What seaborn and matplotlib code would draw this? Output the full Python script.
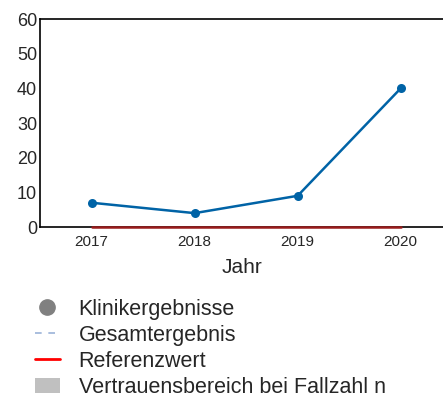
import matplotlib
matplotlib.use("Agg")
import matplotlib.pyplot as plt
import seaborn as sns
import pandas as pd
from matplotlib.lines import Line2D
from matplotlib.patches import Patch

# -----------------------------
# Data
# -----------------------------
jahre = [2017, 2018, 2019, 2020]
klinik = [7, 4, 9, 40]
referenz = [0, 0, 0, 0]

legend_labels = ["Klinikergebnisse", "Gesamtergebnis", "Referenzwert",
                 "Vertrauensbereich bei Fallzahl n"]

df = pd.DataFrame({"Jahr": jahre, "Wert": klinik, "Referenz": referenz})

# -----------------------------
# Plot
# -----------------------------
sns.set_style("white")
plt.rcParams["font.family"] = ["Liberation Sans", "DejaVu Sans"]

fig = plt.figure(figsize=(4.43, 4.03), dpi=100)
ax = fig.add_axes([40 / 443, 1 - 227 / 403, 403 / 443, 208 / 403])

sns.lineplot(data=df, x="Jahr", y="Referenz", ax=ax, color="#9a1c1c",
             linewidth=1.8, zorder=5, clip_on=False)
sns.lineplot(data=df, x="Jahr", y="Wert", ax=ax, color="#0063a6",
             linewidth=1.8, marker="o", markersize=6.5, markeredgewidth=0,
             zorder=3)

ax.set_xlim(2016.5, 2020.41)
ax.set_ylim(0, 60)
ax.set_xticks(jahre)
ax.set_yticks(range(0, 61, 10))
ax.tick_params(axis="x", labelsize=11, length=0, pad=6)
ax.tick_params(axis="y", labelsize=13, length=0, pad=2)
ax.set_xlabel("Jahr", fontsize=15, labelpad=6)
ax.set_ylabel("")

for side in ["left", "top", "bottom"]:
    ax.spines[side].set_color("black")
    ax.spines[side].set_linewidth(1.2)
ax.spines["right"].set_visible(False)

handles = [
    Line2D([], [], linestyle="none", marker="o", markersize=11,
           color="#808080"),
    Line2D([], [], linestyle=(0, (4, 4)), color="#9bb3d8", linewidth=1.2),
    Line2D([], [], color="#ff0000", linewidth=2),
    Patch(facecolor="#c0c0c0", edgecolor="none"),
]
fig.legend(handles, legend_labels, loc="upper left",
           bbox_to_anchor=(26 / 443, 1 - 290 / 403), frameon=False,
           fontsize=15.5, handlelength=1.16, handletextpad=0.88,
           labelspacing=0.24, borderaxespad=0)

fig.savefig("out.png", dpi=100)
